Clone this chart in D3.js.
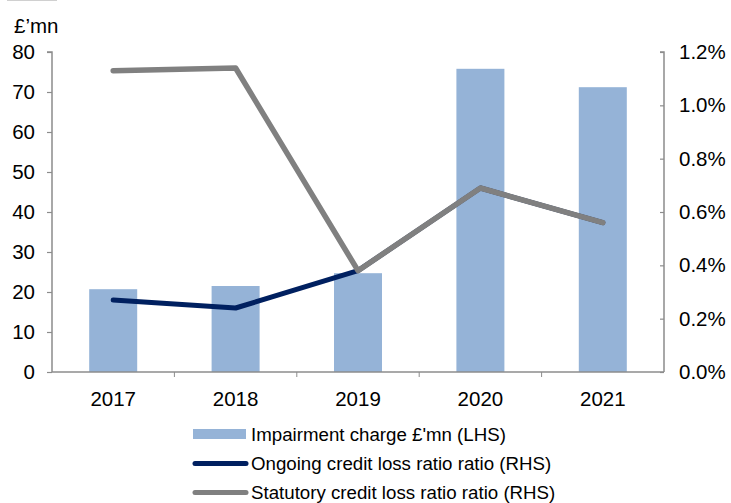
<!DOCTYPE html>
<html>
<head>
<meta charset="utf-8">
<script src="https://cdn.jsdelivr.net/npm/d3@7"></script>
<style>
  html, body { margin: 0; padding: 0; background: #fff; }
  svg { display: block; font-family: "Liberation Sans", Arial, sans-serif; }
</style>
</head>
<body>
<svg id="chart" width="731" height="503"></svg>
<script>
// Years on the category axis
const years = ["2017", "2018", "2019", "2020", "2021"];
// Impairment charge, £mn (left axis)
const impairment = [20.7, 21.5, 24.7, 75.8, 71.2];
// Ongoing credit loss ratio, % (right axis)
const ongoingRatio = [0.27, 0.24, 0.38, 0.69, 0.56];
// Statutory credit loss ratio, % (right axis)
const statutoryRatio = [1.13, 1.14, 0.38, 0.69, 0.56];
// Axis ticks
const leftTicks = [0, 10, 20, 30, 40, 50, 60, 70, 80];
const rightTicks = [0, 0.2, 0.4, 0.6, 0.8, 1.0, 1.2];

const svg = d3.select("#chart");
const m = { left: 52, right: 664, top: 52, bottom: 372 };
const axisColor = "#8c8c8c";
const barColor = "#95b3d7";
const ongoingColor = "#002060";
const statColor = "#808080";
const tickFont = 20.5;

const xBand = d3.scaleBand().domain(years).range([m.left, m.right]);
const yL = d3.scaleLinear().domain([0, 80]).range([m.bottom, m.top]);
const yR = d3.scaleLinear().domain([0, 1.2]).range([m.bottom, m.top]);

// thin rule in the top-left corner
svg.append("line").attr("x1", 7).attr("x2", 57).attr("y1", 0.5).attr("y2", 0.5)
  .attr("stroke", "#d0d0d0").attr("stroke-width", 1);

// Bars
svg.append("g").selectAll("rect").data(years).join("rect")
  .attr("x", d => xBand(d) + xBand.bandwidth() / 2 - 24)
  .attr("width", 48)
  .attr("y", (d, i) => yL(impairment[i]))
  .attr("height", (d, i) => yL(0) - yL(impairment[i]))
  .attr("fill", barColor);

// Left axis
const gL = svg.append("g").attr("transform", `translate(${m.left},0)`)
  .call(d3.axisLeft(yL).tickValues(leftTicks).tickSize(5).tickPadding(12).tickFormat(d3.format("d")));
// Right axis (ticks point inward)
const gR = svg.append("g").attr("transform", `translate(${m.right},0)`)
  .call(d3.axisRight(yR).tickValues(rightTicks).tickSize(-4).tickPadding(15).tickFormat(d => d.toFixed(1) + "%"));
// Category axis with ticks at band boundaries
const gX = svg.append("g").attr("transform", `translate(0,${m.bottom})`)
  .call(d3.axisBottom(xBand).tickSize(0).tickPadding(19));
gX.selectAll(".bound").data(years.slice(1)).join("line")
  .attr("class", "bound")
  .attr("x1", d => xBand(d)).attr("x2", d => xBand(d))
  .attr("y1", 0).attr("y2", 5)
  .attr("stroke", axisColor);

[gL, gR, gX].forEach(g => {
  g.selectAll(".domain").attr("stroke", axisColor).attr("stroke-width", 1.5);
  g.selectAll(".tick line").attr("stroke", axisColor).attr("stroke-width", 1.2);
  g.selectAll("text").attr("fill", "#000").attr("font-size", tickFont)
    .attr("font-family", "'Liberation Sans', Arial, sans-serif");
});
gL.select(".domain").attr("d", `M-5,${m.top}H0V${m.bottom}`);
gR.select(".domain").attr("d", `M-4,${m.top}H0V${m.bottom}`);
gX.select(".domain").attr("d", `M${m.left},0H${m.right}`);

// Unit label
svg.append("text").attr("x", 14).attr("y", 33).attr("font-size", 20.5).text("£’mn");

// Ratio lines
const line = d3.line().x((d, i) => xBand(years[i]) + xBand.bandwidth() / 2).y(d => yR(d));
svg.append("path").datum(ongoingRatio).attr("d", line)
  .attr("fill", "none").attr("stroke", ongoingColor).attr("stroke-width", 5)
  .attr("stroke-linecap", "round").attr("stroke-linejoin", "round");
svg.append("path").datum(statutoryRatio).attr("d", line)
  .attr("fill", "none").attr("stroke", statColor).attr("stroke-width", 5.5)
  .attr("stroke-linecap", "round").attr("stroke-linejoin", "round");

// Legend
const legend = [
  { label: "Impairment charge £'mn (LHS)", type: "bar", color: barColor, y: 434 },
  { label: "Ongoing credit loss ratio ratio (RHS)", type: "line", color: ongoingColor, y: 463.5 },
  { label: "Statutory credit loss ratio ratio (RHS)", type: "line", color: statColor, y: 492.5 }
];
const lg = svg.append("g");
legend.forEach(it => {
  if (it.type === "bar") {
    lg.append("rect").attr("x", 193).attr("y", it.y - 5).attr("width", 53).attr("height", 10).attr("fill", it.color);
  } else {
    lg.append("line").attr("x1", 195).attr("x2", 246).attr("y1", it.y).attr("y2", it.y)
      .attr("stroke", it.color).attr("stroke-width", 5).attr("stroke-linecap", "round");
  }
  lg.append("text").attr("x", 251).attr("y", it.y + 6.7).attr("font-size", 18.7).text(it.label);
});
</script>
</body>
</html>
